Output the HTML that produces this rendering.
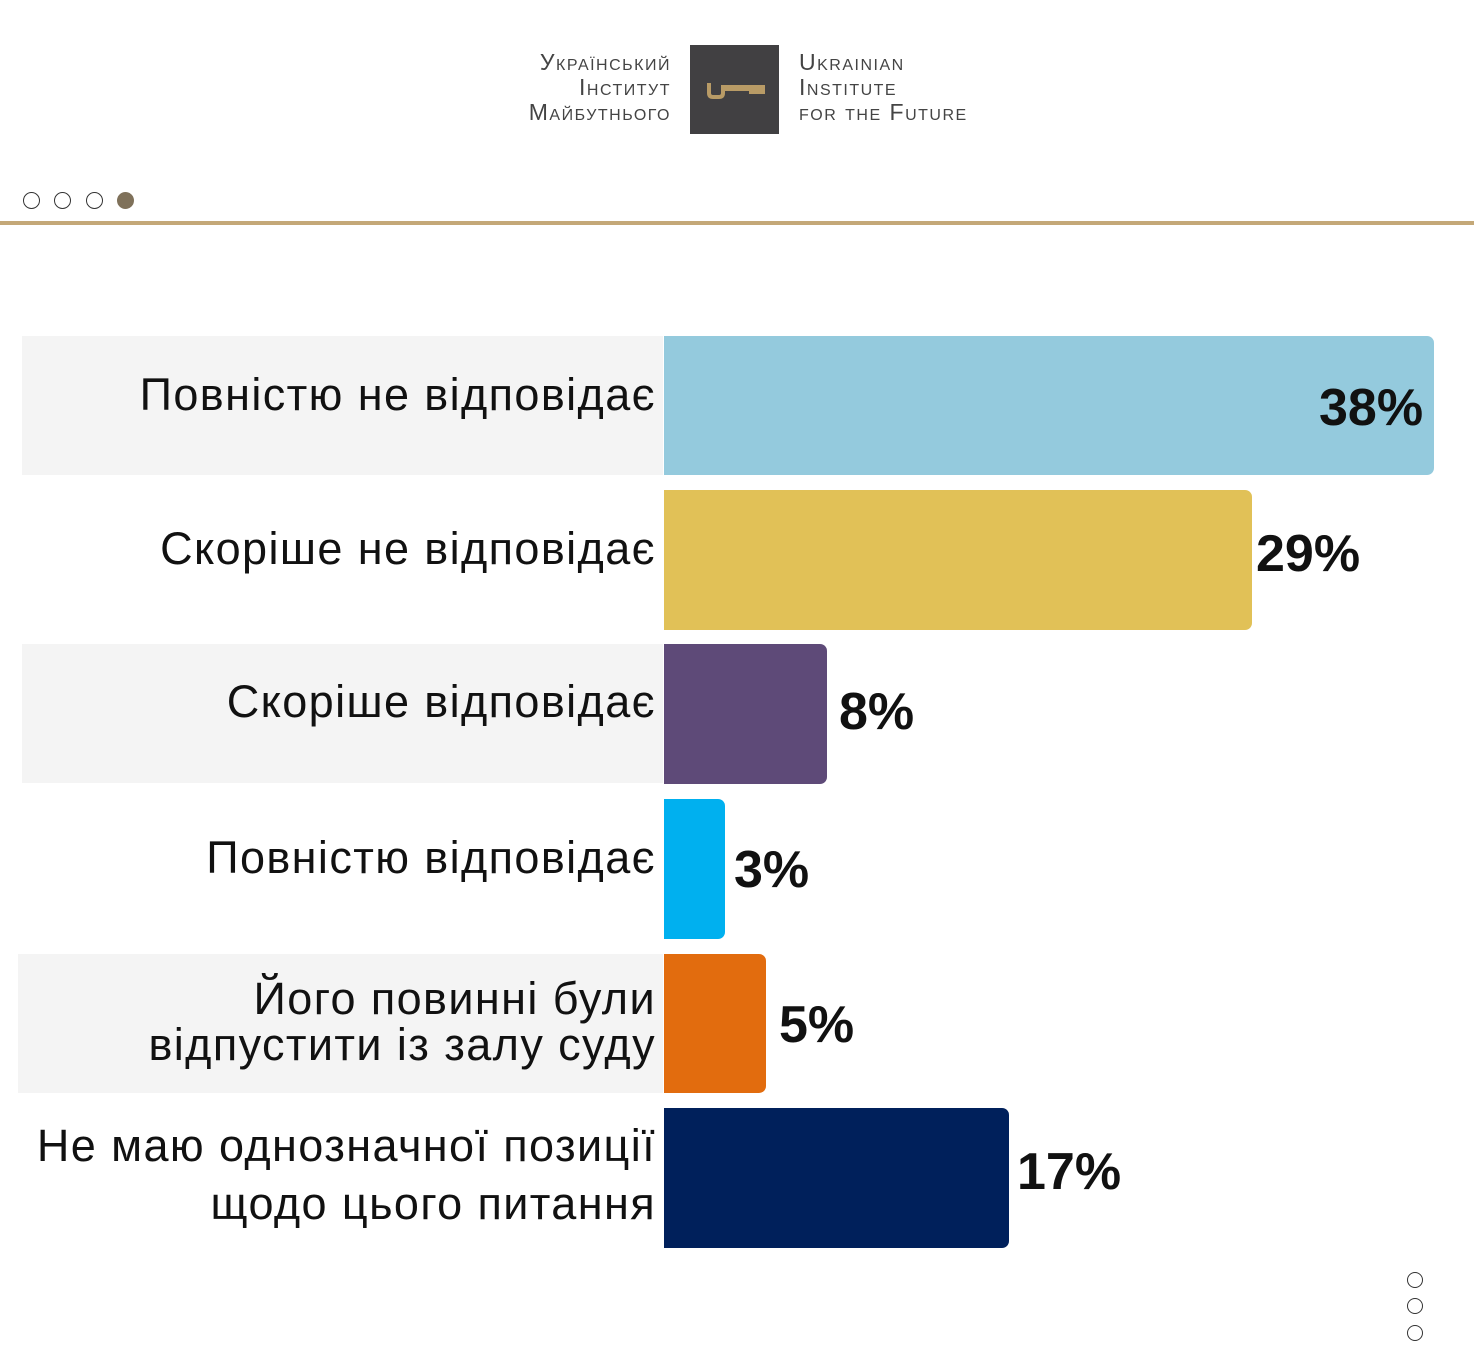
<!DOCTYPE html>
<html><head><meta charset="utf-8"><style>
body{margin:0;width:1474px;height:1368px;background:#fff;position:relative;overflow:hidden;font-family:"Liberation Sans","DejaVu Sans",sans-serif}
.a{position:absolute}
.bg{position:absolute;background:#f4f4f4}
.bar{position:absolute;left:664px;border-radius:0 7px 7px 0}
.lab{position:absolute;right:818px;text-align:right;font-size:45px;color:#111;line-height:48px;letter-spacing:1.4px}
.pct{position:absolute;font-weight:bold;font-size:52px;color:#111}
.lg{position:absolute;font-family:"Liberation Sans",sans-serif;font-variant:small-caps;color:#444;font-size:23px;letter-spacing:1.5px;line-height:25px}
.dot{position:absolute;width:17px;height:17px;border:1.5px solid #333;border-radius:50%;box-sizing:border-box}
</style></head><body>
<div class="lg" style="right:803px;top:50px;text-align:right">Український<br>Інститут<br>Майбутнього</div>
<div class="a" style="left:690px;top:45px;width:89px;height:89px;background:#414042"></div>
<svg class="a" style="left:705px;top:80px" width="60" height="20"><path d="M4 3 v10 q0 4 4 4 h6 q4 0 4-4 v-6 h40 v5 h-4 v-3 h-4 v3 h-4 v-3 h-28 v4" fill="none" stroke="#b89b66" stroke-width="4"/></svg>
<div class="lg" style="left:799px;top:50px">Ukrainian<br>Institute<br>for the Future</div>
<div class="dot" style="left:23px;top:192px"></div>
<div class="dot" style="left:54px;top:192px"></div>
<div class="dot" style="left:86px;top:192px"></div>
<div class="dot" style="left:117px;top:192px;background:#7f715a;border-color:#7f715a"></div>
<div class="a" style="left:0;top:221px;width:1474px;height:4px;background:#c4a878"></div>

<div class="bg" style="left:22px;top:336px;width:641px;height:139px"></div>
<div class="bg" style="left:22px;top:644px;width:641px;height:139px"></div>
<div class="bg" style="left:18px;top:954px;width:645px;height:139px"></div>

<div class="bar" style="top:336px;width:770px;height:139px;background:#94cadd"></div>
<div class="bar" style="top:490px;width:588px;height:140px;background:#e1c157"></div>
<div class="bar" style="top:644px;width:163px;height:140px;background:#5e4a78"></div>
<div class="bar" style="top:799px;width:61px;height:140px;background:#00b0ef"></div>
<div class="bar" style="top:954px;width:102px;height:139px;background:#e26c0e"></div>
<div class="bar" style="top:1108px;width:345px;height:140px;background:#00205b"></div>

<div class="lab" style="top:371px">Повністю не відповідає</div>
<div class="lab" style="top:525px">Скоріше не відповідає</div>
<div class="lab" style="top:678px">Скоріше відповідає</div>
<div class="lab" style="top:834px">Повністю відповідає</div>
<div class="lab" style="top:976px;line-height:46px">Його повинні були<br>відпустити із залу суду</div>
<div class="lab" style="top:1117px;line-height:58px">Не маю однозначної позиції<br>щодо цього питання</div>

<div class="pct" style="left:1319px;top:378px">38%</div>
<div class="pct" style="left:1256px;top:524px">29%</div>
<div class="pct" style="left:839px;top:682px">8%</div>
<div class="pct" style="left:734px;top:840px">3%</div>
<div class="pct" style="left:779px;top:995px">5%</div>
<div class="pct" style="left:1017px;top:1142px">17%</div>

<div class="dot" style="left:1407px;top:1272px;width:16px;height:16px;border-width:1px"></div>
<div class="dot" style="left:1407px;top:1298px;width:16px;height:16px;border-width:1px"></div>
<div class="dot" style="left:1407px;top:1325px;width:16px;height:16px;border-width:1px"></div>
</body></html>
